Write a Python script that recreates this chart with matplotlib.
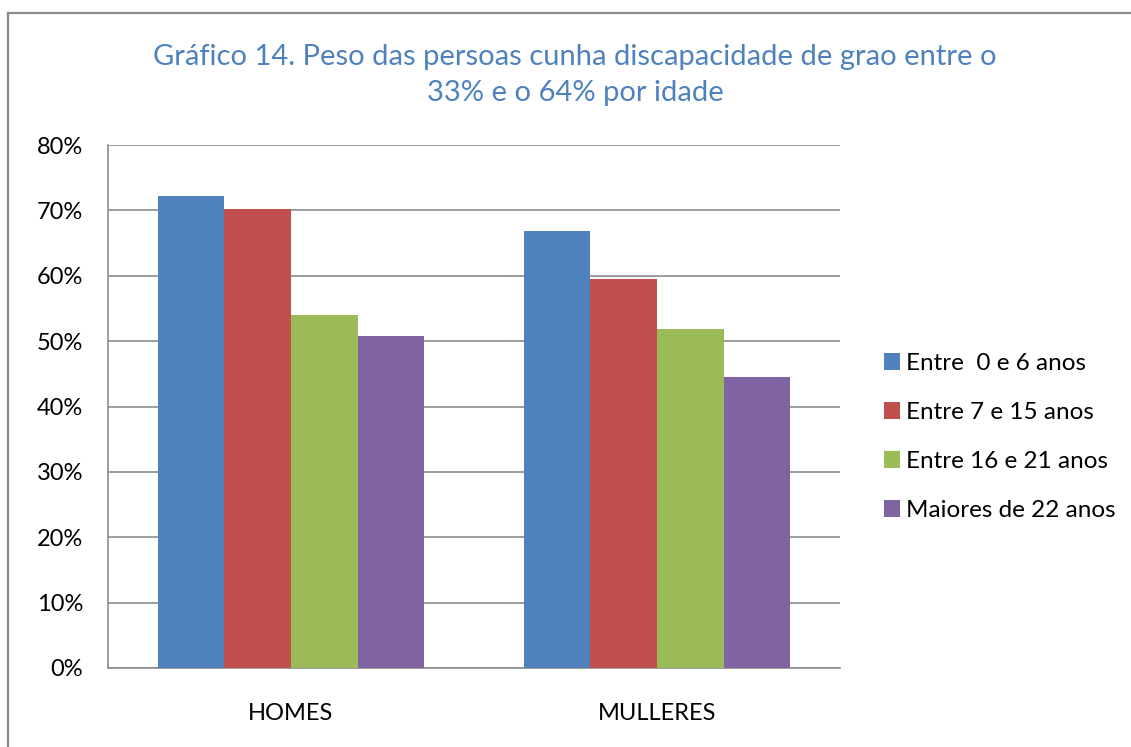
import matplotlib.pyplot as plt
from matplotlib.lines import Line2D
from matplotlib.ticker import FuncFormatter

categories = ['HOMES', 'MULLERES']
series = ['Entre  0 e 6 anos', 'Entre 7 e 15 anos', 'Entre 16 e 21 anos', 'Maiores de 22 anos']
values = [
    [72.2, 66.8],
    [70.2, 59.5],
    [54.0, 51.9],
    [50.8, 44.5],
]
colors = ['#4F81BD', '#C0504D', '#9BBB59', '#8064A2']
yticks = [0, 10, 20, 30, 40, 50, 60, 70, 80]

plt.rcParams['font.family'] = ['Lato', 'DejaVu Sans']

fig = plt.figure(figsize=(11.31, 7.47), dpi=100)
ax = fig.add_axes([108 / 1131, 79 / 747, 732 / 1131, 523 / 747])

# outer chart frame: only its top and left edges are inside the picture
fx, fy = 8 / 1131, 1 - 13 / 747
fig.add_artist(Line2D([fx, 1.0], [fy, fy], transform=fig.transFigure,
                      color='#8a8a8a', linewidth=1.6))
fig.add_artist(Line2D([fx, fx], [0.0, fy], transform=fig.transFigure,
                      color='#8a8a8a', linewidth=1.6))

w = 0.1817
for i, (name, vals) in enumerate(zip(series, values)):
    xs = [j + (i - 1.5) * w for j in range(len(categories))]
    ax.bar(xs, vals, width=w, color=colors[i], label=name, zorder=3)

ax.set_xlim(-0.5, 1.5)
ax.set_ylim(0, 80)
ax.set_yticks(yticks)
ax.yaxis.set_major_formatter(FuncFormatter(lambda v, p: '%d%%' % v))
ax.set_xticks(range(len(categories)))
ax.set_xticklabels(categories)
ax.grid(axis='y', color='#8c8c8c', linewidth=1.2, zorder=0)
ax.tick_params(axis='y', length=0, pad=18, labelsize=17)
ax.tick_params(axis='x', length=0, pad=25, labelsize=17)
for s in ['top', 'right']:
    ax.spines[s].set_visible(False)
for s in ['left', 'bottom']:
    ax.spines[s].set_color('#8c8c8c')
    ax.spines[s].set_linewidth(1.2)

fig.text(575 / 1131, 1 - 75 / 747, 'Gráfico 14. Peso das persoas cunha discapacidade de grao entre o\n33% e o 64% por idade',
         ha='center', va='center', color='#4F81BD', fontsize=21, linespacing=1.5)

leg = ax.legend(loc='center left', bbox_to_anchor=(862 / 1131, 1 - 437 / 747),
                bbox_transform=fig.transFigure, frameon=False, fontsize=17.5,
                handlelength=0.68, handleheight=0.68, handletextpad=0.25,
                labelspacing=1.15)

fig.savefig('out.png', dpi=100)
